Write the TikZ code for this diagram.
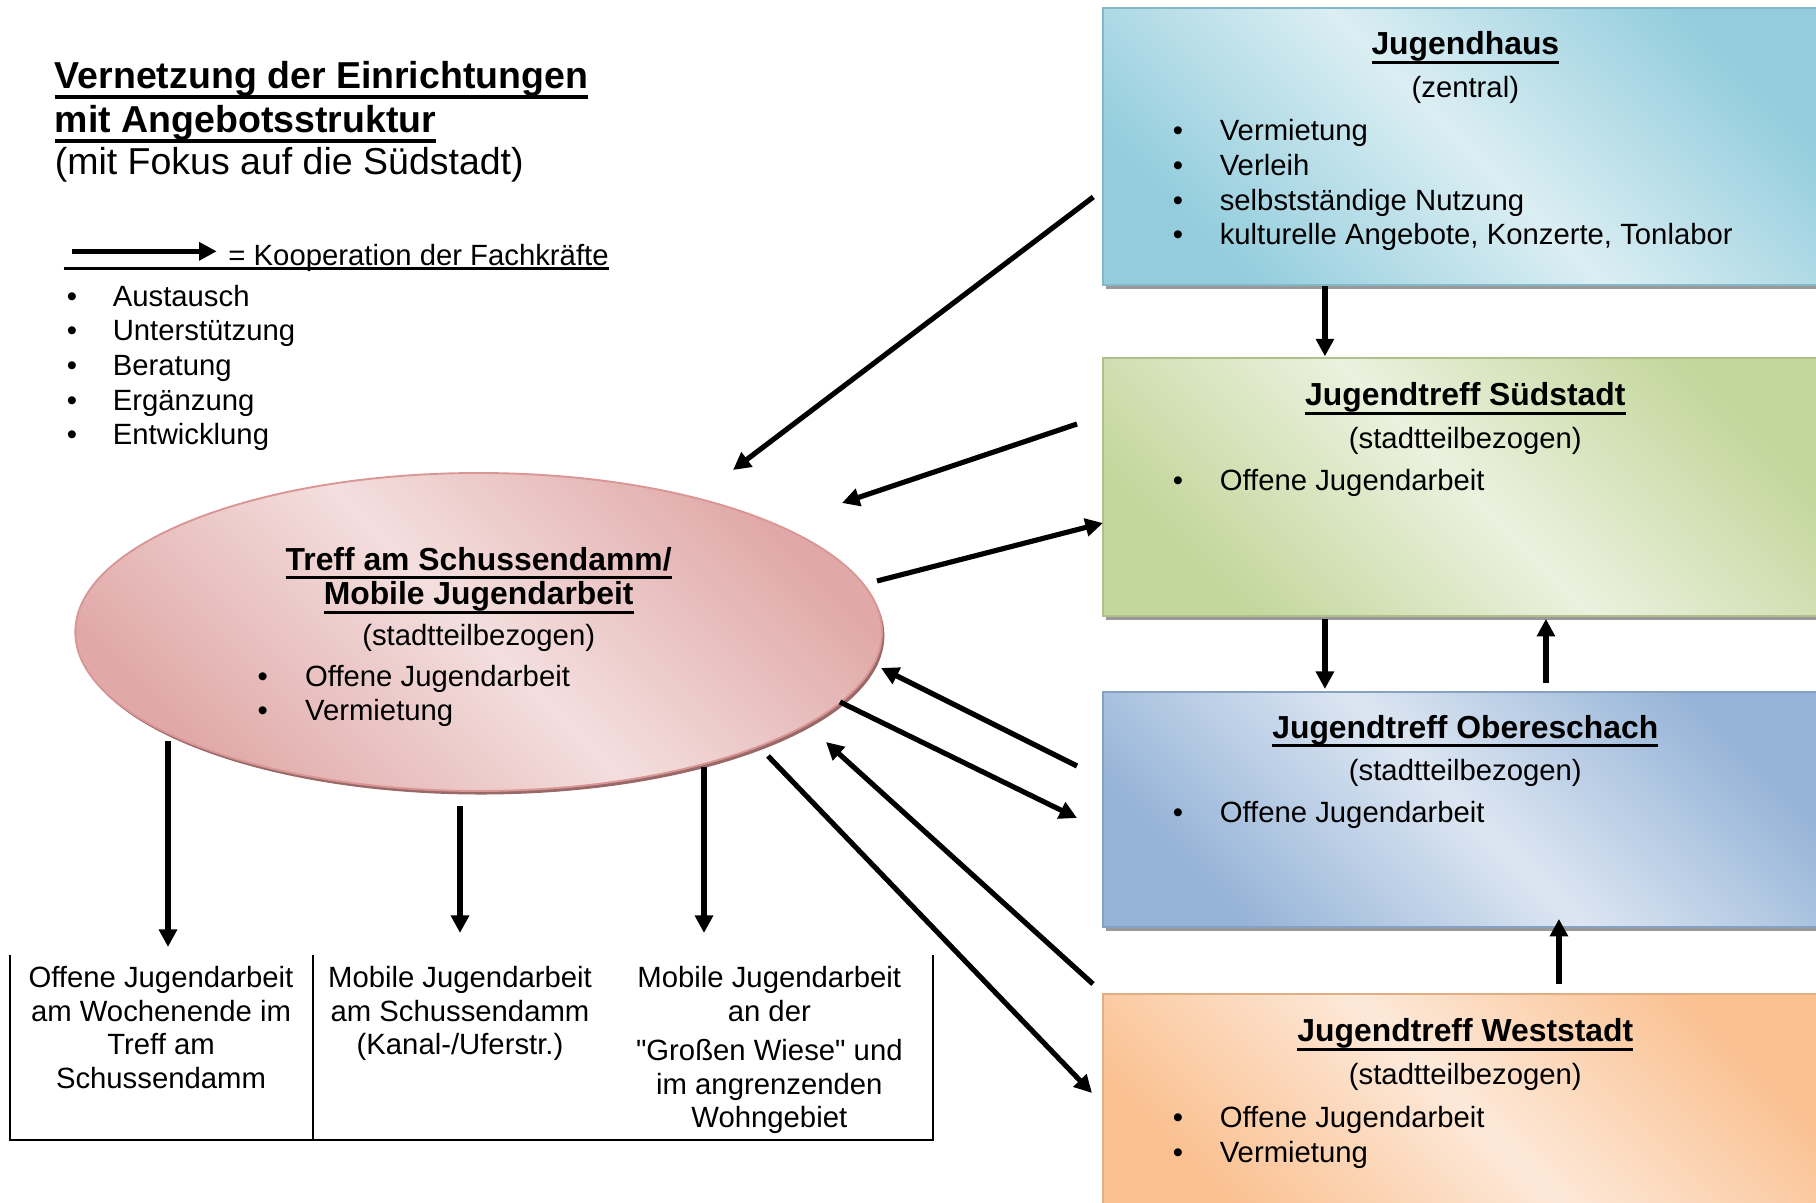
\documentclass[tikz,border=0pt]{standalone}
\usepackage{fontspec}
\setmainfont{Liberation Sans}
\usetikzlibrary{arrows.meta,shapes.geometric,shadows}

\definecolor{blauD}{HTML}{93CDDD}
\definecolor{blauH}{HTML}{DBEEF3}
\definecolor{gruenD}{HTML}{C3D69B}
\definecolor{gruenH}{HTML}{EBF1DE}
\definecolor{graublauD}{HTML}{95B3D7}
\definecolor{graublauH}{HTML}{DCE6F2}
\definecolor{orangeD}{HTML}{FAC090}
\definecolor{orangeH}{HTML}{FDE9D9}
\definecolor{rosaD}{HTML}{E0A9A8}
\definecolor{rosaH}{HTML}{F3DFDE}
\definecolor{rosaR}{HTML}{D99694}

\newsavebox{\unterbox}
\newcommand{\unterstrichen}[1]{\sbox{\unterbox}{#1}\rlap{\rule[-0.29em]{\wd\unterbox}{0.1em}}\usebox{\unterbox}}

\tikzset{
    pfeil/.style={line width=2.2pt, -{Triangle[length=7.5pt,width=7.5pt]}},
    schrift/.style={font=\fontsize{12.5}{14.3}\selectfont, inner sep=0pt, anchor=mid, yshift=-2pt},
    zelle/.style={font=\fontsize{12.5}{14.3}\selectfont, inner sep=0pt, anchor=north, align=center},
    haupt/.style={font=\fontsize{16}{18.3}\selectfont\bfseries, inner sep=0pt, anchor=mid west, yshift=-2.8pt},
    kopf/.style={font=\fontsize{13.6}{16}\selectfont\bfseries, inner sep=0pt, anchor=mid, yshift=-2pt},
    kasten/.style 2 args={rectangle, anchor=north west, minimum width=10.9cm, inner sep=0pt,
        draw=#1!90!black, line width=0.8pt,
        top color=#1, bottom color=#1, middle color=#2, shading angle=-45,
        drop shadow={shadow xshift=1.3pt, shadow yshift=-1.7pt, fill=black!40, opacity=1}},
    treffform/.style={ellipse, minimum width=12.1cm, minimum height=4.77cm, inner sep=0pt,
        draw=rosaR, line width=0.8pt,
        top color=rosaD, bottom color=rosaD, middle color=rosaH, shading angle=-45,
        drop shadow={shadow xshift=1pt, shadow yshift=-1.5pt, fill=rosaR!70!black, opacity=1}}
}

\begin{document}
\begin{tikzpicture}
    \useasboundingbox (0,0) rectangle (27.24,-18.045);
    \clip (0,0) rectangle (27.24,-18.045);

    % Ueberschrift
    \node[haupt] (titel1) at (0.816,-1.13) {\unterstrichen{Vernetzung der Einrichtungen}};
    \node[haupt] (titel2) at (0.816,-1.79) {\unterstrichen{mit Angebotsstruktur}};
    \node[haupt, font=\fontsize{16}{18.3}\selectfont] (titel3) at (0.816,-2.43) {(mit Fokus auf die Südstadt)};

    % Legende
    \coordinate (leg-a) at (1.08,-3.77);
    \coordinate (leg-b) at (3.25,-3.77);
    \draw[pfeil] (leg-a) -- (leg-b);
    \node[schrift, anchor=mid west] (koop) at (3.42,-3.82) {= Kooperation der Fachkräfte};
    \coordinate (leg-u) at (0.955,-4.03);
    \draw[line width=1.1pt] (leg-u) -- (leg-u -| koop.east);
    \foreach \wort/\y [count=\i] in {Austausch/-4.43, Unterstützung/-4.95, Beratung/-5.47, Ergänzung/-5.99, Entwicklung/-6.51} {
        \node[schrift] (leg-p\i) at (1.08,\y) {\textbullet};
        \node[schrift, anchor=mid west] (leg-t\i) at (1.685,\y) {\wort};
    }

    % Einrichtungen rechts
    \node[kasten={blauD}{blauH}, minimum height=4.155cm] (jugendhaus) at (16.53,-0.105) {};
    \node[kasten={gruenD}{gruenH}, minimum height=3.87cm] (suedstadt) at (16.53,-5.355) {};
    \node[kasten={graublauD}{graublauH}, minimum height=3.525cm] (obereschach) at (16.53,-10.365) {};
    \node[kasten={orangeD}{orangeH}, minimum height=3.45cm] (weststadt) at (16.53,-14.895) {};

    \node[kopf] (jh-kopf) at (21.98,-0.66) {\unterstrichen{Jugendhaus}};
    \node[schrift] (jh-sub) at (21.98,-1.30) {(zentral)};
    \foreach \wort/\y [count=\i] in {Vermietung/-1.95, Verleih/-2.47, selbstständige Nutzung/-2.99, {kulturelle Angebote, Konzerte, Tonlabor}/-3.51} {
        \node[schrift] (jh-p\i) at (17.67,\y) {\textbullet};
        \node[schrift, anchor=mid west] (jh-t\i) at (18.29,\y) {\wort};
    }

    \node[kopf] (sd-kopf) at (21.98,-5.92) {\unterstrichen{Jugendtreff Südstadt}};
    \node[schrift] (sd-sub) at (21.98,-6.57) {(stadtteilbezogen)};
    \node[schrift] (sd-p1) at (17.67,-7.19) {\textbullet};
    \node[schrift, anchor=mid west] (sd-t1) at (18.29,-7.19) {Offene Jugendarbeit};

    \node[kopf] (oe-kopf) at (21.98,-10.91) {\unterstrichen{Jugendtreff Obereschach}};
    \node[schrift] (oe-sub) at (21.98,-11.55) {(stadtteilbezogen)};
    \node[schrift] (oe-p1) at (17.67,-12.18) {\textbullet};
    \node[schrift, anchor=mid west] (oe-t1) at (18.29,-12.18) {Offene Jugendarbeit};

    \node[kopf] (ws-kopf) at (21.98,-15.46) {\unterstrichen{Jugendtreff Weststadt}};
    \node[schrift] (ws-sub) at (21.98,-16.11) {(stadtteilbezogen)};
    \foreach \wort/\y [count=\i] in {Offene Jugendarbeit/-16.75, Vermietung/-17.27} {
        \node[schrift] (ws-p\i) at (17.67,\y) {\textbullet};
        \node[schrift, anchor=mid west] (ws-t\i) at (18.29,\y) {\wort};
    }

    % Treff am Schussendamm
    \node[treffform] (treff) at (7.18,-9.48) {};
    \node[kopf] (tr-kopf1) at (7.18,-8.39) {\unterstrichen{Treff am Schussendamm/}};
    \node[kopf] (tr-kopf2) at (7.18,-8.91) {\unterstrichen{Mobile Jugendarbeit}};
    \node[schrift] (tr-sub) at (7.18,-9.52) {(stadtteilbezogen)};
    \foreach \wort/\y [count=\i] in {Offene Jugendarbeit/-10.13, Vermietung/-10.65} {
        \node[schrift] (tr-p\i) at (3.94,\y) {\textbullet};
        \node[schrift, anchor=mid west] (tr-t\i) at (4.57,\y) {\wort};
    }

    % Angebote unten
    \draw[line width=0.85pt] (0.156,-14.32) -- (0.156,-17.10) -- (13.99,-17.10) -- (13.99,-14.32);
    \draw[line width=0.85pt] (4.69,-14.32) -- (4.69,-17.10);
    \node[zelle] (zelle1) at (2.415,-14.49) {Offene Jugendarbeit\\am Wochenende im\\Treff am\\Schussendamm};
    \node[zelle] (zelle2) at (6.9,-14.49) {Mobile Jugendarbeit\\am Schussendamm\\(Kanal-/Uferstr.)};
    \node[zelle] (zelle3) at (11.54,-14.49) {Mobile Jugendarbeit\\an der\\[2.5pt]\textquotedbl Großen Wiese\textquotedbl{} und\\im angrenzenden\\Wohngebiet};

    % Pfeile
    \foreach \name/\x/\y in {jh-aus/16.40/-2.955, treff-ein1/10.995/-7.05,
            sd-aus/16.155/-6.36, treff-ein2/12.63/-7.545,
            treff-aus1/13.155/-8.715, sd-ein/16.545/-7.845,
            oe-aus/16.155/-11.49, treff-ein3/13.215/-10.02,
            treff-aus2/12.6/-10.53, oe-ein/16.155/-12.27,
            ws-aus/16.395/-14.76, treff-ein4/12.39/-11.13,
            treff-aus3/11.52/-11.34, ws-ein/16.38/-16.395,
            treff-u1/2.52/-11.115, zelle-o1/2.52/-14.205,
            treff-u2/6.9/-12.09, zelle-o2/6.9/-13.995,
            treff-u3/10.56/-11.505, zelle-o3/10.56/-13.995} {
        \coordinate (\name) at (\x,\y);
    }
    \draw[pfeil] (jh-aus) -- (treff-ein1);
    \draw[pfeil] (sd-aus) -- (treff-ein2);
    \draw[pfeil] (treff-aus1) -- (sd-ein);
    \draw[pfeil] (oe-aus) -- (treff-ein3);
    \draw[pfeil] (treff-aus2) -- (oe-ein);
    \draw[pfeil] (ws-aus) -- (treff-ein4);
    \draw[pfeil] (treff-aus3) -- (ws-ein);
    \draw[pfeil] (treff-u1) -- (zelle-o1);
    \draw[pfeil] (treff-u2) -- (zelle-o2);
    \draw[pfeil] (treff-u3) -- (zelle-o3);

    \draw[pfeil] ([xshift=-2.12cm]jugendhaus.south) -- ([xshift=-2.12cm,yshift=0.01cm]suedstadt.north);
    \draw[pfeil] ([xshift=-2.12cm,yshift=-0.03cm]suedstadt.south) -- ([xshift=-2.12cm,yshift=0.03cm]obereschach.north);
    \draw[pfeil] ([xshift=1.195cm,yshift=0.12cm]obereschach.north) -- ([xshift=1.195cm,yshift=-0.03cm]suedstadt.south);
    \draw[pfeil] ([xshift=1.39cm,yshift=0.135cm]weststadt.north) -- ([xshift=1.39cm,yshift=0.135cm]obereschach.south);
\end{tikzpicture}
\end{document}
